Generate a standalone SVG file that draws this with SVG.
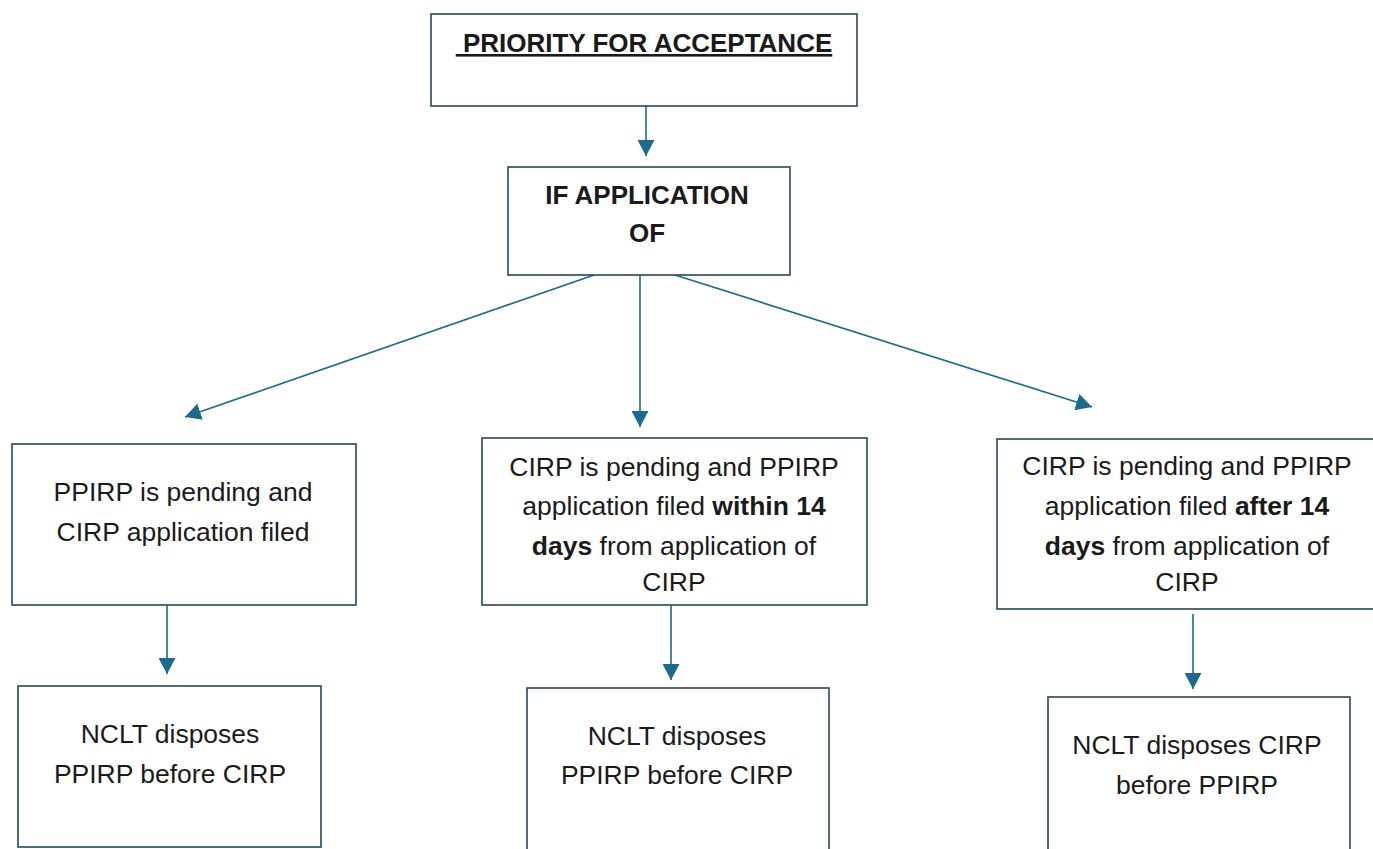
<svg xmlns="http://www.w3.org/2000/svg" width="1373" height="849" viewBox="0 0 1373 849">
<defs>
<style>
.box{fill:#ffffff;stroke:#284556;stroke-width:1.6}
.t{font-family:"Liberation Sans",Arial,sans-serif;font-size:26.5px;fill:#1a1a1a;text-anchor:middle}
.b{font-weight:bold}
.h{font-size:26px}
.c{stroke:#1d6a8c;stroke-width:1.6;fill:none;marker-end:url(#ah)}
</style>
<marker id="ah" markerUnits="userSpaceOnUse" markerWidth="17" markerHeight="17" viewBox="0 0 16 16" refX="15" refY="8" orient="auto">
<path d="M0,0 L15,8 L0,16 z" fill="#1d6a8c"/>
</marker>
</defs>
<rect width="1373" height="849" fill="#ffffff"/>
<g id="connectors">
<line class="c" x1="646" y1="106" x2="646" y2="156"/>
<line class="c" x1="594" y1="275" x2="185" y2="417"/>
<line class="c" x1="640" y1="275" x2="640" y2="427"/>
<line class="c" x1="675" y1="275" x2="1092" y2="407"/>
<line class="c" x1="167" y1="602" x2="167" y2="674"/>
<line class="c" x1="671" y1="605" x2="671" y2="680"/>
<line class="c" x1="1193" y1="614" x2="1193" y2="689"/>
</g>
<g id="n-priority">
<rect class="box" x="431" y="14" width="426" height="92"/>
<text class="t b h" x="644" y="52" text-decoration="underline" xml:space="preserve"> PRIORITY FOR ACCEPTANCE</text>
</g>
<g id="n-if">
<rect class="box" x="508" y="167" width="282" height="108"/>
<text class="t b h" x="647" y="204">IF APPLICATION</text>
<text class="t b h" x="647" y="242">OF</text>
</g>
<g id="n-left">
<rect class="box" x="12" y="444" width="344" height="161"/>
<text class="t" x="183" y="501">PPIRP is pending and</text>
<text class="t" x="183" y="541">CIRP application filed</text>
</g>
<g id="n-mid">
<rect class="box" x="482" y="438" width="385" height="167"/>
<text class="t" x="674" y="476">CIRP is pending and PPIRP</text>
<text class="t" x="674" y="515">application filed <tspan class="b">within 14</tspan></text>
<text class="t" x="674" y="555"><tspan class="b">days</tspan> from application of</text>
<text class="t" x="674" y="591">CIRP</text>
</g>
<g id="n-right">
<rect class="box" x="997" y="439" width="390" height="170"/>
<text class="t" x="1187" y="475">CIRP is pending and PPIRP</text>
<text class="t" x="1187" y="515">application filed <tspan class="b">after 14</tspan></text>
<text class="t" x="1187" y="555"><tspan class="b">days</tspan> from application of</text>
<text class="t" x="1187" y="591">CIRP</text>
</g>
<g id="n-res-left">
<rect class="box" x="18" y="686" width="303" height="161"/>
<text class="t" x="170" y="743">NCLT disposes</text>
<text class="t" x="170" y="783">PPIRP before CIRP</text>
</g>
<g id="n-res-mid">
<rect class="box" x="527" y="688" width="302" height="170"/>
<text class="t" x="677" y="745">NCLT disposes</text>
<text class="t" x="677" y="784">PPIRP before CIRP</text>
</g>
<g id="n-res-right">
<rect class="box" x="1048" y="697" width="302" height="170"/>
<text class="t" x="1197" y="754">NCLT disposes CIRP</text>
<text class="t" x="1197" y="794">before PPIRP</text>
</g>
</svg>
